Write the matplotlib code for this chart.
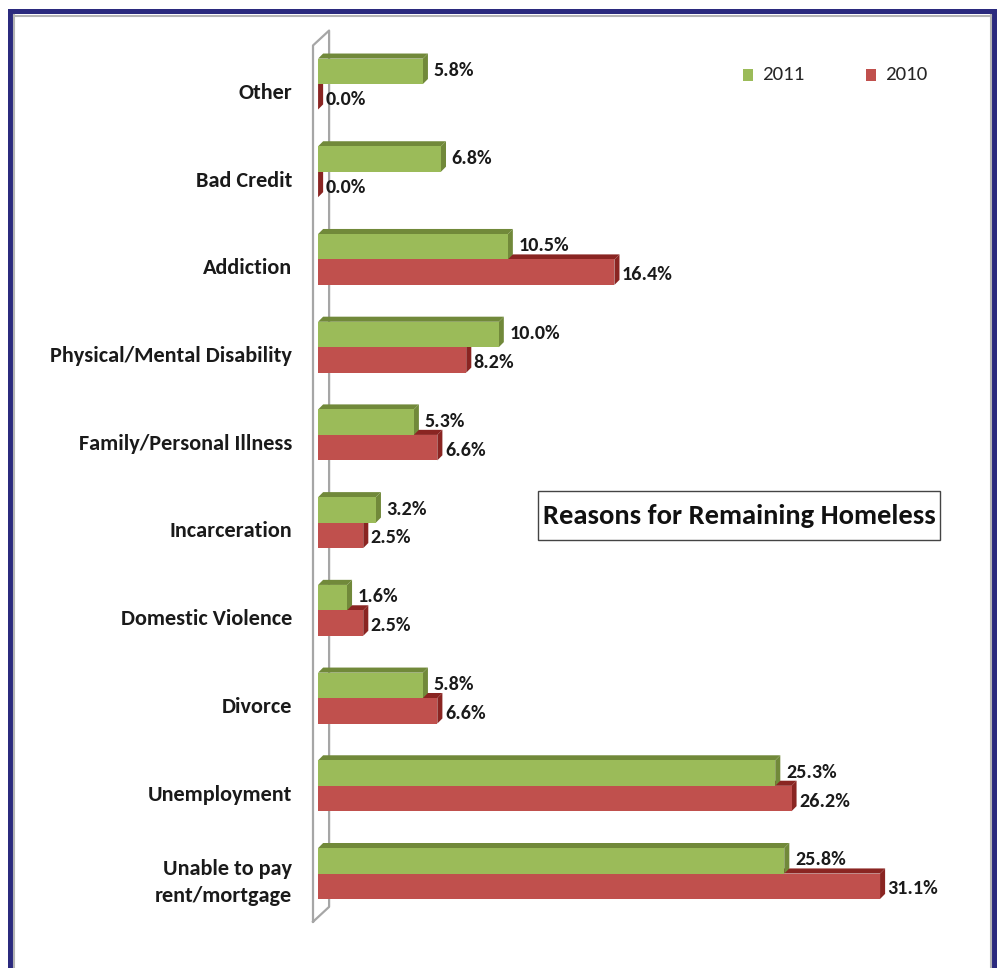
import numpy as np
import matplotlib
matplotlib.use("Agg")
import matplotlib.pyplot as plt
from matplotlib import font_manager as fm
from matplotlib.patches import Polygon, Rectangle
from matplotlib.lines import Line2D

# Calibri look-alike if available, otherwise a narrower fallback at smaller size
_have = {f.name for f in fm.fontManager.ttflist}
if "Carlito" in _have:
    plt.rcParams["font.family"] = ["Carlito", "DejaVu Sans"]
    FS = 1.0
else:
    plt.rcParams["font.family"] = ["Liberation Sans", "DejaVu Sans"]
    FS = 0.86

# bottom -> top
categories = ["Unable to pay\nrent/mortgage", "Unemployment", "Divorce",
              "Domestic Violence", "Incarceration", "Family/Personal Illness",
              "Physical/Mental Disability", "Addiction", "Bad Credit", "Other"]
vals_2011 = [25.8, 25.3, 5.8, 1.6, 3.2, 5.3, 10.0, 10.5, 6.8, 5.8]
vals_2010 = [31.1, 26.2, 6.6, 2.5, 2.5, 6.6, 8.2, 16.4, 0.0, 0.0]
series_names = ["2011", "2010"]

GREEN, GREEN_DK = "#9bbb59", "#71893a"
RED, RED_DK = "#c0504d", "#8a2522"
NAVY = "#2b2a7e"

W, H = 1000, 968
fig = plt.figure(figsize=(W / 100, H / 100), dpi=100)

# axes: 0 at x=318px, 18.07 px per percent; categories 87.7 px apart
ax = fig.add_axes([0.30, 0.0, 0.69, 1.0])
ax.set_xlim(-1.0, -1.0 + 690 / 18.07)
ax.set_ylim(-1.077, -1.077 + H / 87.72)
ax.axis("off")

y = np.arange(len(categories))
h = 0.29
dx, dy = 0.28, 0.058  # 3D depth

# back wall
wall = [(-0.28, -0.55), (-0.28, 9.44), (0.61, 9.61), (0.61, -0.38), (-0.28, -0.55)]
ax.plot([p[0] for p in wall], [p[1] for p in wall], color="#a6a6a6", lw=1.6,
        clip_on=False, zorder=1)


def bar3d(vals, base, front, dark, z):
    ax.barh(base + h / 2, vals, height=h, color=front, edgecolor="none",
            zorder=z + 0.5)
    for v, b in zip(vals, base):
        top = [(0, b + h), (v, b + h), (v + dx, b + h + dy), (dx, b + h + dy)]
        side = [(v, b), (v, b + h), (v + dx, b + h + dy), (v + dx, b + dy)]
        ax.add_patch(Polygon(top, closed=True, fc=dark, ec="none", zorder=z))
        ax.add_patch(Polygon(side, closed=True, fc=dark, ec="none", zorder=z))


bar3d(vals_2010, y - h, RED, RED_DK, 2)
bar3d(vals_2011, y, GREEN, GREEN_DK, 4)

lab_kw = dict(fontsize=14.5 * FS, fontweight="bold", color="#1a1a1a", va="center",
              ha="left", zorder=10)
for yi, g, r in zip(y, vals_2011, vals_2010):
    ax.text(g + 0.6, yi + h / 2 + 0.01, f"{g:.1f}%", **lab_kw)
    ax.text(r + 0.42, yi - h / 2 - 0.03, f"{r:.1f}%", **lab_kw)

for yi, c in zip(y, categories):
    ax.text(-1.44, yi - 0.1, c, ha="right", va="center", fontsize=16 * FS,
            fontweight="bold", color="#1a1a1a", linespacing=1.45, clip_on=False)

# legend
for x0, col, name in [(743, GREEN, series_names[0]), (866, RED, series_names[1])]:
    fig.patches.append(Rectangle((x0 / W, 1 - 81 / H), 10 / W, 12 / H,
                                 transform=fig.transFigure, fc=col, ec="none"))
    fig.text((x0 + 19) / W, 1 - 75 / H, name, fontsize=15 * FS, va="center",
             ha="left", color="#262626")

# title box
fig.patches.append(Rectangle((538 / W, 1 - 540 / H), 402 / W, 49 / H,
                             transform=fig.transFigure, fc="white", ec="#444444",
                             lw=1.0, zorder=5))
fig.text(739 / W, 1 - 516 / H, "Reasons for Remaining Homeless",
         fontsize=20.5 * FS, fontweight="bold", ha="center", va="center",
         color="#111111", zorder=6)

# outer frame
fig.patches.append(Rectangle((8 / W, 0), 5 / W, 1 - 9 / H, transform=fig.transFigure,
                             fc=NAVY, ec="none"))
fig.patches.append(Rectangle((8 / W, 1 - 14 / H), 989 / W, 5 / H,
                             transform=fig.transFigure, fc=NAVY, ec="none"))
fig.patches.append(Rectangle((992 / W, 0), 5 / W, 1 - 9 / H, transform=fig.transFigure,
                             fc=NAVY, ec="none"))
fig.lines.append(Line2D([14 / W, 14 / W], [0, 1 - 15 / H], transform=fig.transFigure,
                        color="#b4b4b4", lw=1.5))
fig.lines.append(Line2D([14 / W, 991 / W], [1 - 15.5 / H, 1 - 15.5 / H],
                        transform=fig.transFigure, color="#b4b4b4", lw=1.5))
fig.lines.append(Line2D([991 / W, 991 / W], [0, 1 - 15 / H], transform=fig.transFigure,
                        color="#b4b4b4", lw=1.5))

fig.savefig("out.png", dpi=100, facecolor="white")
